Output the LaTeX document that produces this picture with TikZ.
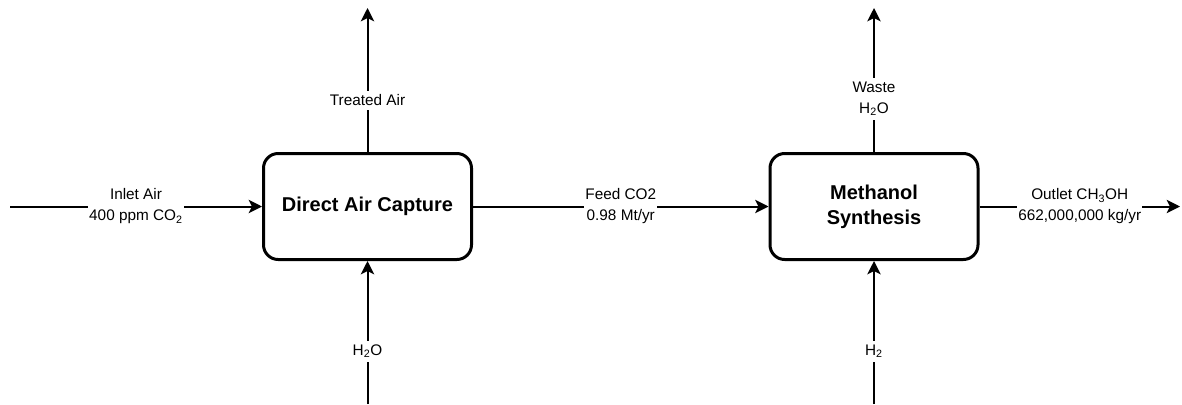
\documentclass[tikz,border=0pt]{standalone}
\usepackage{fontspec}
\setmainfont{Liberation Sans}
\usepackage{tikz}
\usetikzlibrary{positioning, arrows.meta}

\begin{document}
\begin{tikzpicture}[x=0.75pt, y=-0.75pt,
    unit/.style={draw, line width=2.25pt, rounded corners=11pt, minimum width=156pt, minimum height=79.5pt, align=center, font=\bfseries\fontsize{15}{18.75}\selectfont},
    flow/.style={line width=1.5pt, -{Stealth[length=10pt, width=10pt, inset=2.5pt]}},
    lbl/.style={fill=white, inner xsep=1pt, inner ysep=3pt, align=center, font=\fontsize{11.5}{15.75}\selectfont}]
        \useasboundingbox (0,0) rectangle (1182,404);
        % Units
        \node[unit] (dac) at (367.5,206.5) {Direct Air Capture};
        \node[unit] (meoh) at (874,206.5) {Methanol\\Synthesis};
        % Free ends
        \coordinate (inlet) at (10,206.5);
        \coordinate (treated) at (367.5,8);
        \coordinate (water) at (367.5,404);
        \coordinate (waste) at (874,8);
        \coordinate (hydrogen) at (874,404);
        \coordinate (outlet) at (1180,206.5);
        % Horizontal streams
        \draw[flow] (inlet) -- node[lbl] {Inlet Air\\400 ppm CO\textsubscript{2}} (dac);
        \draw[flow] (dac) -- node[lbl] {Feed CO2\\0.98 Mt/yr} (meoh);
        \draw[flow] (meoh) -- node[lbl] {Outlet CH\textsubscript{3}OH\\662,000,000 kg/yr} (outlet);
        % Vertical streams
        \draw[flow] (dac) -- node[lbl, pos=0.36] {Treated Air} (treated);
        \draw[flow] (water) -- node[lbl, pos=0.37] {H\textsubscript{2}O} (dac);
        \draw[flow] (meoh) -- node[lbl, pos=0.37] {Waste\\H\textsubscript{2}O} (waste);
        \draw[flow] (hydrogen) -- node[lbl, pos=0.37] {H\textsubscript{2}} (meoh);
    \end{tikzpicture}
\end{document}
